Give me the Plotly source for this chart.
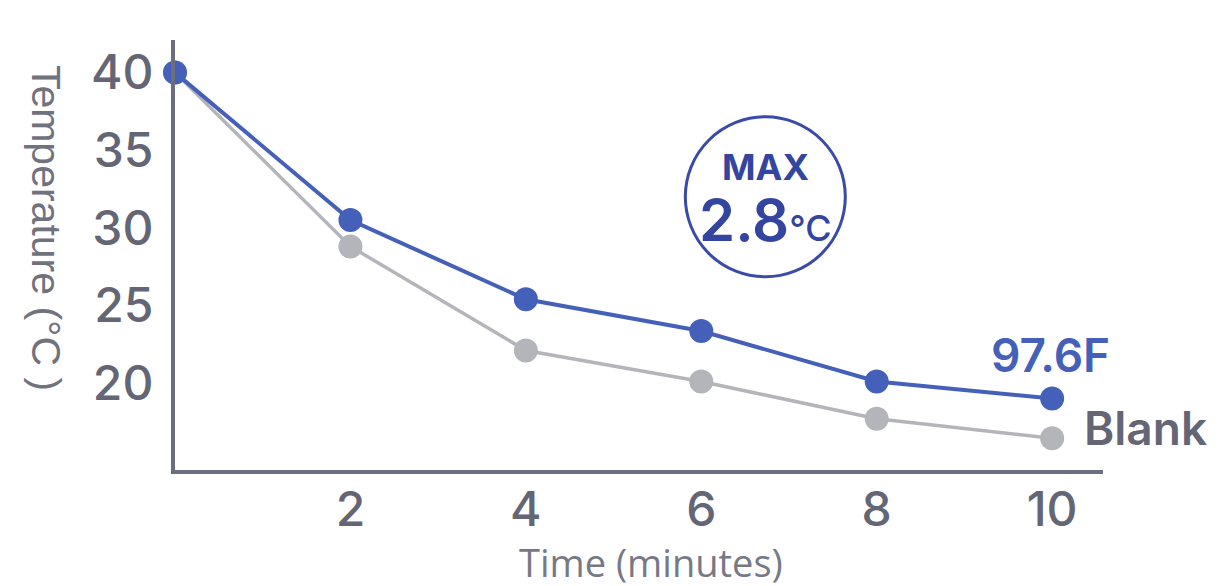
import plotly.graph_objects as go

time_min = [0, 2, 4, 6, 8, 10]
temp_product = [40, 30.5, 25.4, 23.35, 20.1, 19.0]
temp_blank = [40, 28.8, 22.1, 20.1, 17.7, 16.45]
y_ticks = [20, 25, 30, 35, 40]
x_ticks = [2, 4, 6, 8, 10]

BLUE = "#4560b8"
DARK_BLUE = "#34459f"
GRAY_LINE = "#b4b5ba"
AXIS = "#6c6e7e"
TEXT = "#646676"
FONT = "Liberation Sans, Arial, sans-serif"
INTER = "Inter, Liberation Sans, sans-serif"
TICKFONT = dict(size=48, color=TEXT, family=INTER, weight=500)

fig = go.Figure()
fig.add_trace(go.Scatter(
    x=time_min, y=temp_blank, mode="lines+markers",
    line=dict(color=GRAY_LINE, width=3.5),
    marker=dict(color=GRAY_LINE, size=24),
    cliponaxis=False, showlegend=False))
fig.add_trace(go.Scatter(
    x=time_min, y=temp_product, mode="lines+markers",
    line=dict(color=BLUE, width=4),
    marker=dict(color=BLUE, size=24),
    cliponaxis=False, showlegend=False))

fig.update_layout(
    width=1225, height=586,
    margin=dict(l=167, r=130, t=32, b=124),
    paper_bgcolor="white", plot_bgcolor="white",
    font=dict(family=FONT, color=TEXT),
    xaxis=dict(range=[0, 10.58], tickvals=x_ticks, showgrid=False, zeroline=False,
               showline=True, linecolor=AXIS, linewidth=4, ticks="", ticklen=0,
               tickfont=TICKFONT, ticklabelstandoff=-6),
    yaxis=dict(range=[14.4, 42.1], tickvals=y_ticks, showgrid=False, zeroline=False,
               showline=True, linecolor=AXIS, linewidth=4, ticks="", ticklen=0,
               tickfont=TICKFONT, ticklabelstandoff=8),
)

# Axis titles
fig.add_annotation(text="Temperature (°C )", xref="paper", yref="paper",
                   x=-0.139, y=0.563, xanchor="center", yanchor="middle",
                   textangle=90, showarrow=False,
                   font=dict(size=41, color="#70727e", family="Liberation Sans, Arial"))
fig.add_annotation(text="Time (minutes)", xref="paper", yref="paper",
                   x=0.513, y=-0.214, xanchor="center", yanchor="middle", showarrow=False,
                   font=dict(size=38, color="#777986", family="Open Sans, sans-serif"))

# MAX circle
cx, cy = 6.73, 32.0
fig.add_shape(type="circle", xref="x", yref="y", xsizemode="pixel", ysizemode="pixel",
              xanchor=cx, yanchor=cy, x0=-80, x1=80, y0=-80, y1=80,
              line=dict(color="#3a4aa8", width=3))
fig.add_annotation(text="MAX", x=cx, y=33.9, showarrow=False,
                   font=dict(size=36, color=DARK_BLUE, family=INTER, weight=700))
fig.add_annotation(text="2.8<span style='font-size:36px;font-weight:500'>℃</span>", x=cx, y=30.5,
                   showarrow=False, font=dict(size=58, color=DARK_BLUE, family=INTER, weight=600))

# End labels
fig.add_annotation(text="97.6F", x=9.98, y=21.8, showarrow=False,
                   font=dict(size=46, color=BLUE, family=INTER, weight=600))
fig.add_annotation(text="Blank", x=10.34, y=17.1, xanchor="left", showarrow=False,
                   font=dict(size=46, color=TEXT, family=INTER, weight=600))

fig.write_html("out.html")
